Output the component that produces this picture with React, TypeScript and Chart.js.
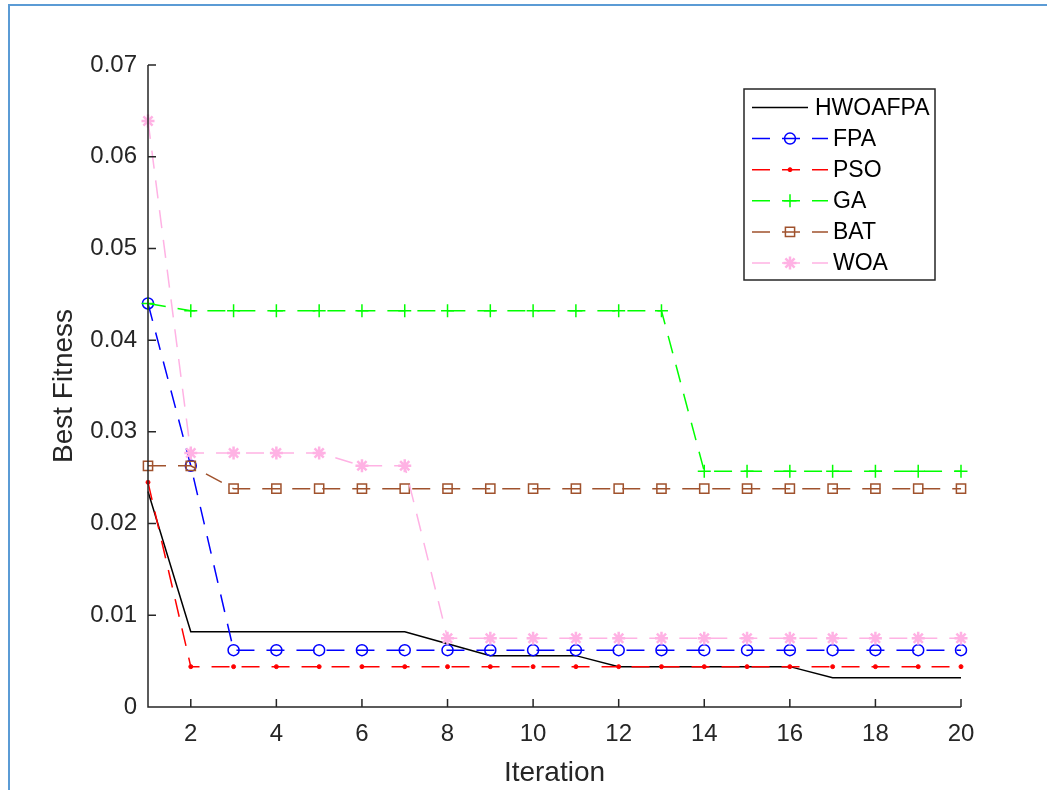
import React, { useEffect, useRef } from 'react';
import { Chart, registerables } from 'chart.js';
import { drawPoint } from 'chart.js/helpers';

Chart.register(...registerables);

const iterations = [1, 2, 3, 4, 5, 6, 7, 8, 9, 10, 11, 12, 13, 14, 15, 16, 17, 18, 19, 20];
const hwoafpa = [0.0235, 0.0082, 0.0082, 0.0082, 0.0082, 0.0082, 0.0082, 0.0069, 0.0056, 0.0056, 0.0056, 0.0044, 0.0044, 0.0044, 0.0044, 0.0044, 0.0032, 0.0032, 0.0032, 0.0032];
const fpa = [0.044, 0.0263, 0.0062, 0.0062, 0.0062, 0.0062, 0.0062, 0.0062, 0.0062, 0.0062, 0.0062, 0.0062, 0.0062, 0.0062, 0.0062, 0.0062, 0.0062, 0.0062, 0.0062, 0.0062];
const pso = [0.0245, 0.0044, 0.0044, 0.0044, 0.0044, 0.0044, 0.0044, 0.0044, 0.0044, 0.0044, 0.0044, 0.0044, 0.0044, 0.0044, 0.0044, 0.0044, 0.0044, 0.0044, 0.0044, 0.0044];
const ga = [0.044, 0.0432, 0.0432, 0.0432, 0.0432, 0.0432, 0.0432, 0.0432, 0.0432, 0.0432, 0.0432, 0.0432, 0.0432, 0.0257, 0.0257, 0.0257, 0.0257, 0.0257, 0.0257, 0.0257];
const bat = [0.0263, 0.0263, 0.0238, 0.0238, 0.0238, 0.0238, 0.0238, 0.0238, 0.0238, 0.0238, 0.0238, 0.0238, 0.0238, 0.0238, 0.0238, 0.0238, 0.0238, 0.0238, 0.0238, 0.0238];
const woa = [0.0639, 0.0277, 0.0277, 0.0277, 0.0277, 0.0263, 0.0263, 0.0075, 0.0075, 0.0075, 0.0075, 0.0075, 0.0075, 0.0075, 0.0075, 0.0075, 0.0075, 0.0075, 0.0075, 0.0075];

const seriesNames = ['HWOAFPA', 'FPA', 'PSO', 'GA', 'BAT', 'WOA'];
const xTicks = [2, 4, 6, 8, 10, 12, 14, 16, 18, 20];
const yTicks = [0, 0.01, 0.02, 0.03, 0.04, 0.05, 0.06, 0.07];
const yTickLabels = ['0', '0.01', '0.02', '0.03', '0.04', '0.05', '0.06', '0.07'];

const FONT = '"Liberation Sans", Arial, Helvetica, sans-serif';
const AXIS = '#262626';
const DASH = [18, 12];

const styles = [
  { color: '#000000', dash: [] as number[], point: false as any, radius: 0, pw: 1.5, bg: 'transparent' },
  { color: '#0000FF', dash: DASH, point: 'circle', radius: 5.5, pw: 1.5, bg: 'transparent' },
  { color: '#FF0000', dash: DASH, point: 'circle', radius: 2, pw: 1, bg: '#FF0000' },
  { color: '#00FF00', dash: DASH, point: 'cross', radius: 6.5, pw: 1.5, bg: 'transparent' },
  { color: '#A0522D', dash: DASH, point: 'rect', radius: 6.5, pw: 1.5, bg: 'transparent' },
  { color: 'rgb(255,178,228)', dash: DASH, point: 'star', radius: 6.5, pw: 2.5, bg: 'transparent' },
];

const allSeries = [hwoafpa, fpa, pso, ga, bat, woa];

const frameTicks = {
  id: 'frameTicks',
  afterDraw(chart: any) {
    const { ctx, chartArea, scales } = chart;
    ctx.save();
    ctx.strokeStyle = AXIS;
    ctx.lineWidth = 1.5;
    ctx.setLineDash([]);
    ctx.beginPath();
    ctx.moveTo(chartArea.left, chartArea.top);
    ctx.lineTo(chartArea.left, chartArea.bottom);
    ctx.lineTo(chartArea.right, chartArea.bottom);
    scales.x.ticks.forEach((t: any) => {
      const px = scales.x.getPixelForValue(t.value);
      ctx.moveTo(px, chartArea.bottom);
      ctx.lineTo(px, chartArea.bottom - 8);
    });
    scales.y.ticks.forEach((t: any) => {
      const py = scales.y.getPixelForValue(t.value);
      ctx.moveTo(chartArea.left, py);
      ctx.lineTo(chartArea.left + 8, py);
    });
    ctx.stroke();
    ctx.restore();
  },
};

const matlabLegend = {
  id: 'matlabLegend',
  afterDraw(chart: any) {
    const { ctx } = chart;
    const bx = 744, by = 89, bw = 191, bh = 191;
    ctx.save();
    ctx.fillStyle = '#ffffff';
    ctx.fillRect(bx, by, bw, bh);
    ctx.strokeStyle = AXIS;
    ctx.lineWidth = 1.5;
    ctx.setLineDash([]);
    ctx.strokeRect(bx, by, bw, bh);
    ctx.font = '23px ' + FONT;
    ctx.textBaseline = 'middle';
    ctx.textAlign = 'left';
    chart.data.datasets.forEach((ds: any, i: number) => {
      const s = styles[i];
      const yy = 107.5 + i * 31.1;
      ctx.strokeStyle = s.color;
      ctx.lineWidth = 1.5;
      ctx.setLineDash(s.dash);
      ctx.beginPath();
      const x2 = i === 0 ? 808 : 828;
      ctx.moveTo(752, yy);
      ctx.lineTo(x2, yy);
      ctx.stroke();
      ctx.setLineDash([]);
      if (s.point) {
        ctx.fillStyle = s.bg;
        ctx.lineWidth = s.pw;
        drawPoint(ctx, { pointStyle: s.point, radius: s.radius, rotation: 0, borderWidth: s.pw }, 790, yy);
      }
      ctx.fillStyle = '#000000';
      ctx.fillText(ds.label, i === 0 ? 815 : 833, yy + 1);
    });
    ctx.restore();
  },
};

export default function App() {
  const ref = useRef<HTMLCanvasElement>(null);
  useEffect(() => {
    if (!ref.current) return;
    Chart.defaults.font.family = FONT;
    const chart = new Chart(ref.current, {
      type: 'line',
      data: {
        labels: iterations,
        datasets: allSeries.map((vals, i) => {
          const s = styles[i];
          return {
            label: seriesNames[i],
            data: vals.map((v, k) => ({ x: iterations[k], y: v })),
            borderColor: s.color,
            backgroundColor: s.bg,
            borderWidth: 1.5,
            borderDash: s.dash,
            pointStyle: s.point,
            pointRadius: s.radius,
            pointBorderWidth: s.pw,
            pointBorderColor: s.color,
            pointBackgroundColor: s.bg,
            pointHoverRadius: s.radius,
            tension: 0,
            fill: false,
            clip: false as any,
            order: 10 - i,
          };
        }),
      },
      options: {
        animation: false,
        responsive: false,
        maintainAspectRatio: false,
        devicePixelRatio: 1,
        events: [],
        layout: { padding: { left: 0, right: 86, top: 65, bottom: 0 } },
        plugins: { legend: { display: false }, tooltip: { enabled: false } },
        scales: {
          x: {
            type: 'linear',
            min: 1,
            max: 20,
            grid: { display: false, drawTicks: false },
            border: { display: false },
            afterBuildTicks: (s: any) => { s.ticks = xTicks.map((v) => ({ value: v })); },
            afterFit: (s: any) => { s.height = 83; },
            ticks: {
              color: AXIS,
              font: { size: 24 },
              padding: 13,
              maxRotation: 0,
              autoSkip: false,
              callback: (v: any) => String(v),
            },
            title: {
              display: true,
              text: 'Iteration',
              color: AXIS,
              font: { size: 28 },
              padding: { top: 0, bottom: 0 },
            },
          },
          y: {
            type: 'linear',
            min: 0,
            max: 0.07,
            grid: { display: false, drawTicks: false },
            border: { display: false },
            afterBuildTicks: (s: any) => { s.ticks = yTicks.map((v) => ({ value: v })); },
            afterFit: (s: any) => { s.width = 148; },
            ticks: {
              color: AXIS,
              font: { size: 24 },
              padding: 11,
              autoSkip: false,
              callback: (v: any) => {
                const idx = yTicks.findIndex((t) => Math.abs(t - v) < 1e-9);
                return idx >= 0 ? yTickLabels[idx] : '';
              },
            },
            title: {
              display: true,
              text: 'Best Fitness',
              color: AXIS,
              font: { size: 28 },
              padding: { top: 47, bottom: 0 },
            },
          },
        },
      },
      plugins: [frameTicks, matlabLegend],
    } as any);
    return () => chart.destroy();
  }, []);

  return (
    <div style={{ position: 'fixed', left: 0, top: 0, width: 1047, height: 790, background: '#ffffff', overflow: 'hidden' }}>
      <canvas ref={ref} width={1047} height={790} style={{ position: 'absolute', left: 0, top: 0, width: 1047, height: 790 }} />
      <div style={{ position: 'absolute', left: 8, top: 4, width: 1100, height: 900, borderLeft: '2px solid #5B9BD5', borderTop: '2px solid #5B9BD5', pointerEvents: 'none' }} />
    </div>
  );
}
